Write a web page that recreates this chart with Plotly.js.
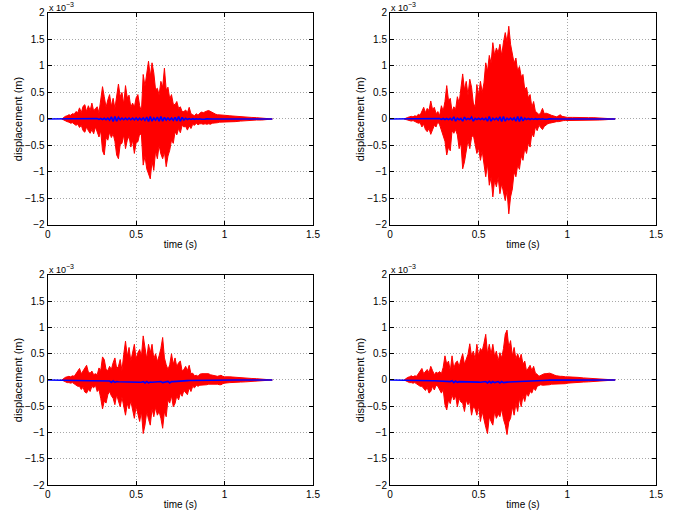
<!DOCTYPE html>
<html><head><meta charset="utf-8">
<script src="https://cdn.plot.ly/plotly-3.0.1.min.js"></script>
<style>html,body{margin:0;padding:0;background:#fff}#chart{width:689px;height:517px}</style>
</head><body><div id="chart"></div>
<script>
// time samples (s)
const time = [0.08,0.09,0.10,0.11,0.12,0.13,0.14,0.15,0.16,0.17,
 0.18,0.19,0.20,0.21,0.22,0.23,0.24,0.25,0.26,0.27,
 0.28,0.29,0.30,0.31,0.32,0.33,0.34,0.35,0.36,0.37,
 0.38,0.39,0.40,0.41,0.42,0.43,0.44,0.45,0.46,0.47,
 0.48,0.49,0.50,0.51,0.52,0.53,0.54,0.55,0.56,0.57,
 0.58,0.59,0.60,0.61,0.62,0.63,0.64,0.65,0.66,0.67,
 0.68,0.69,0.70,0.71,0.72,0.73,0.74,0.75,0.76,0.77,
 0.78,0.79,0.80,0.81,0.82,0.83,0.84,0.85,0.86,0.87,
 0.88,0.89,0.90,0.91,0.92,0.93,0.94,0.95,0.96,0.97,
 0.98,0.99,1.00,1.03,1.06,1.09,1.12,1.15,1.18,1.21,
 1.24,1.27];

// displacement values in units of 1e-3 m
// top-left panel: red envelope (upper / lower), blue response
const tlUpper = [0.00,0.03,0.05,0.06,0.08,0.07,0.10,0.09,0.14,0.12,
 0.21,0.12,0.24,0.27,0.14,0.25,0.16,0.30,0.15,0.20,
 0.23,0.12,0.40,0.61,0.42,0.22,0.36,0.46,0.24,0.39,
 0.20,0.40,0.66,0.42,0.50,0.28,0.63,0.40,0.45,0.22,
 0.30,0.22,0.40,0.46,0.25,0.14,0.84,0.62,0.90,1.09,
 0.80,1.06,0.87,0.55,0.58,0.45,0.71,0.60,0.96,0.55,
 0.60,0.38,0.46,0.28,0.27,0.33,0.20,0.23,0.14,0.14,
 0.17,0.12,0.22,0.10,0.08,0.06,0.10,0.07,0.11,0.13,
 0.12,0.14,0.15,0.16,0.14,0.12,0.10,0.09,0.08,0.08,
 0.08,0.07,0.07,0.06,0.05,0.04,0.04,0.03,0.025,0.02,
 0.01,0.00];
const tlLower = [0.00,-0.02,-0.04,-0.05,-0.06,-0.08,-0.07,-0.10,-0.12,-0.10,
 -0.16,-0.12,-0.22,-0.25,-0.15,-0.22,-0.27,-0.20,-0.28,-0.15,
 -0.26,-0.34,-0.22,-0.60,-0.68,-0.35,-0.40,-0.25,-0.35,-0.28,
 -0.42,-0.68,-0.75,-0.48,-0.46,-0.30,-0.56,-0.40,-0.32,-0.53,
 -0.40,-0.65,-0.45,-0.43,-0.28,-0.30,-0.87,-0.70,-0.94,-1.03,
 -1.13,-0.80,-0.97,-0.60,-0.75,-0.50,-0.66,-0.75,-0.62,-0.90,
 -0.70,-0.59,-0.40,-0.46,-0.24,-0.30,-0.18,-0.26,-0.12,-0.15,
 -0.14,-0.21,-0.13,-0.18,-0.10,-0.12,-0.08,-0.11,-0.09,-0.09,
 -0.10,-0.09,-0.10,-0.09,-0.10,-0.08,-0.08,-0.07,-0.07,-0.06,
 -0.06,-0.06,-0.06,-0.05,-0.05,-0.04,-0.03,-0.03,-0.02,-0.02,
 -0.01,0.00];
const tlBlue = [0,0,0,0,0.003,-0.003,0.003,-0.003,0.003,-0.003,
 0.005,-0.005,0.005,-0.005,0.005,-0.005,0.005,-0.005,0.005,-0.005,
 0.008,-0.008,0.01,-0.01,0.012,-0.012,0.015,-0.02,0.04,-0.045,
 0.045,-0.04,0.03,-0.015,0.015,-0.015,0.015,-0.015,0.015,-0.015,
 0.015,-0.015,0.02,-0.02,0.015,-0.015,0.02,-0.025,0.035,-0.045,
 0.045,-0.04,0.02,-0.02,0.035,-0.04,0.045,-0.04,0.03,-0.02,
 0.02,-0.02,0.02,-0.025,0.03,-0.035,0.045,-0.04,0.03,-0.02,
 0.015,-0.01,0.008,-0.008,0.006,-0.006,0.005,-0.005,0.004,-0.004,
 0.003,-0.003,0.002,-0.002,0,0,0,0,0,0,
 0,0,0,0,0,0,0,0,0,0,
 0,0];

// top-right panel
const trUpper = [0.00,0.02,0.03,0.04,0.05,0.04,0.06,0.05,0.09,0.07,
 0.15,0.22,0.12,0.20,0.16,0.34,0.18,0.22,0.10,0.14,
 0.06,0.25,0.15,0.33,0.63,0.35,0.39,0.14,0.23,0.18,
 0.42,0.30,0.58,0.85,0.55,0.71,0.45,0.75,0.60,0.30,
 0.22,0.65,0.45,0.71,0.50,0.68,1.06,0.90,1.20,1.05,
 1.44,1.20,1.34,1.25,1.41,1.20,1.45,1.63,1.45,1.75,
 1.41,1.25,1.05,1.15,0.90,0.99,0.80,0.84,0.55,0.60,
 0.40,0.46,0.22,0.33,0.14,0.12,0.08,0.12,0.20,0.10,
 0.11,0.10,0.08,0.07,0.06,0.05,0.04,0.06,0.08,0.05,
 0.04,0.03,0.03,0.03,0.025,0.03,0.025,0.025,0.02,0.02,
 0.01,0.00];
const trLower = [0.00,-0.01,-0.02,-0.03,-0.04,-0.03,-0.05,-0.06,-0.08,-0.07,
 -0.15,-0.10,-0.20,-0.24,-0.18,-0.29,-0.21,-0.12,-0.15,-0.05,
 -0.11,-0.22,-0.30,-0.42,-0.68,-0.53,-0.60,-0.22,-0.27,-0.20,
 -0.30,-0.56,-0.45,-0.94,-0.81,-0.59,-0.40,-0.56,-0.35,-0.30,
 -0.45,-0.65,-0.55,-0.78,-0.60,-0.90,-1.09,-0.85,-1.25,-1.10,
 -1.47,-1.15,-1.28,-1.10,-1.41,-1.22,-1.40,-1.54,-1.35,-1.79,
 -1.47,-1.32,-1.00,-1.09,-0.87,-0.95,-0.70,-0.78,-0.55,-0.65,
 -0.45,-0.53,-0.27,-0.34,-0.15,-0.22,-0.12,-0.17,-0.20,-0.14,
 -0.11,-0.09,-0.08,-0.07,-0.06,-0.06,-0.05,-0.05,-0.04,-0.03,
 -0.03,-0.03,-0.03,-0.025,-0.02,-0.025,-0.02,-0.02,-0.02,-0.015,
 -0.01,0.00];
const trBlue = [0,0,0,0,0.003,-0.003,0.003,-0.003,0.003,-0.003,
 0.005,-0.005,0.005,-0.005,0.005,-0.005,0.005,-0.005,0.005,-0.005,
 0.008,-0.008,0.01,-0.01,0.01,-0.012,0.012,-0.02,0.04,-0.04,
 0.015,-0.012,0.012,-0.04,0.035,-0.012,0.012,-0.01,0.035,-0.04,
 0.012,-0.012,0.012,-0.012,0.012,-0.015,0.015,-0.04,0.045,-0.04,
 0.015,-0.015,0.015,-0.02,0.04,-0.045,0.045,-0.04,0.015,-0.015,
 0.015,-0.015,0.02,-0.04,0.045,-0.045,0.04,-0.035,0.015,-0.012,
 0.01,-0.01,0.008,-0.008,0.006,-0.006,0.005,-0.005,0.004,-0.004,
 0.003,-0.003,0.002,-0.002,0,0,0,0,0,0,
 0,0,0,0,0,0,0,0,0,0,
 0,0];

// bottom-left panel
const blUpper = [0.00,0.03,0.05,0.06,0.07,0.06,0.08,0.07,0.12,0.15,
 0.22,0.12,0.18,0.23,0.28,0.15,0.13,0.17,0.10,0.12,
 0.10,0.23,0.18,0.44,0.39,0.20,0.18,0.26,0.20,0.33,
 0.42,0.22,0.26,0.39,0.18,0.49,0.74,0.45,0.62,0.36,
 0.50,0.68,0.40,0.52,0.58,0.45,0.84,0.65,0.40,0.68,
 0.52,0.68,0.40,0.50,0.35,0.46,0.60,0.81,0.42,0.29,
 0.20,0.29,0.50,0.30,0.42,0.25,0.33,0.36,0.17,0.20,
 0.26,0.18,0.28,0.12,0.13,0.08,0.09,0.07,0.11,0.12,
 0.12,0.13,0.13,0.12,0.10,0.09,0.08,0.07,0.07,0.08,
 0.09,0.07,0.06,0.06,0.05,0.04,0.035,0.03,0.025,0.02,
 0.01,0.00];
const blLower = [0.00,-0.02,-0.04,-0.05,-0.05,-0.06,-0.05,-0.07,-0.10,-0.12,
 -0.12,-0.18,-0.14,-0.23,-0.25,-0.18,-0.22,-0.12,-0.15,-0.10,
 -0.22,-0.18,-0.35,-0.55,-0.40,-0.44,-0.28,-0.22,-0.30,-0.35,
 -0.47,-0.28,-0.40,-0.51,-0.33,-0.54,-0.67,-0.45,-0.55,-0.40,
 -0.60,-0.73,-0.50,-0.65,-0.79,-0.60,-1.02,-0.86,-0.60,-0.75,
 -0.86,-0.55,-0.70,-0.52,-0.67,-0.60,-0.73,-0.92,-0.60,-0.70,
 -0.38,-0.44,-0.30,-0.51,-0.45,-0.30,-0.38,-0.25,-0.31,-0.20,
 -0.24,-0.28,-0.15,-0.22,-0.12,-0.15,-0.10,-0.12,-0.10,-0.10,
 -0.09,-0.09,-0.09,-0.08,-0.08,-0.07,-0.07,-0.07,-0.08,-0.09,
 -0.09,-0.07,-0.06,-0.05,-0.05,-0.04,-0.035,-0.03,-0.02,-0.02,
 -0.01,0.00];
const blBlue = [0,0,0,-0.003,-0.003,-0.005,-0.005,-0.005,-0.006,-0.007,
 -0.008,-0.009,-0.010,-0.011,-0.012,-0.013,-0.014,-0.015,-0.016,-0.017,
 -0.018,-0.02,-0.022,-0.024,-0.026,-0.028,-0.03,-0.02,-0.045,-0.015,
 -0.045,-0.03,-0.033,-0.035,-0.036,-0.037,-0.038,-0.039,-0.04,-0.04,
 -0.04,-0.041,-0.041,-0.042,-0.042,-0.042,-0.03,-0.055,-0.028,-0.055,
 -0.04,-0.042,-0.042,-0.041,-0.04,-0.04,-0.03,-0.05,-0.04,-0.04,
 -0.028,-0.055,-0.03,-0.032,-0.028,-0.025,-0.022,-0.02,-0.018,-0.016,
 -0.014,-0.012,-0.011,-0.01,-0.009,-0.008,-0.007,-0.006,-0.005,-0.005,
 -0.004,-0.004,-0.003,-0.003,-0.002,-0.002,-0.001,-0.001,0,0,
 0,0,0,0,0,0,0,0,0,0,
 0,0];

// bottom-right panel
const brUpper = [0.00,0.03,0.05,0.06,0.08,0.06,0.08,0.07,0.12,0.15,
 0.22,0.12,0.17,0.20,0.14,0.26,0.18,0.10,0.15,0.13,
 0.16,0.12,0.24,0.46,0.30,0.36,0.17,0.46,0.22,0.33,
 0.36,0.25,0.39,0.50,0.30,0.42,0.49,0.69,0.45,0.55,
 0.39,0.68,0.45,0.60,0.55,0.70,0.87,0.50,0.68,0.49,
 0.68,0.45,0.55,0.36,0.52,0.42,0.60,0.87,0.95,0.62,
 0.75,0.46,0.62,0.40,0.50,0.39,0.49,0.30,0.36,0.17,
 0.22,0.28,0.18,0.26,0.13,0.11,0.07,0.09,0.10,0.12,
 0.12,0.13,0.13,0.12,0.10,0.09,0.08,0.07,0.07,0.07,
 0.06,0.06,0.06,0.06,0.05,0.04,0.035,0.03,0.025,0.02,
 0.01,0.00];
const brLower = [0.00,-0.02,-0.04,-0.05,-0.05,-0.06,-0.05,-0.07,-0.10,-0.12,
 -0.12,-0.16,-0.20,-0.14,-0.25,-0.22,-0.12,-0.19,-0.10,-0.12,
 -0.19,-0.25,-0.18,-0.47,-0.57,-0.38,-0.45,-0.28,-0.38,-0.30,
 -0.51,-0.35,-0.42,-0.44,-0.60,-0.38,-0.47,-0.41,-0.67,-0.51,
 -0.55,-0.67,-0.50,-0.79,-0.60,-0.79,-0.90,-1.02,-0.70,-0.79,
 -0.86,-0.60,-0.73,-0.65,-0.70,-0.55,-0.75,-0.86,-1.04,-0.80,
 -0.73,-0.51,-0.67,-0.45,-0.60,-0.35,-0.51,-0.30,-0.41,-0.25,
 -0.31,-0.22,-0.25,-0.15,-0.20,-0.12,-0.11,-0.09,-0.10,-0.10,
 -0.09,-0.09,-0.09,-0.08,-0.08,-0.07,-0.07,-0.07,-0.07,-0.08,
 -0.08,-0.07,-0.06,-0.05,-0.05,-0.04,-0.035,-0.03,-0.02,-0.02,
 -0.01,0.00];
const brBlue = [0,0,0,-0.002,-0.003,-0.004,-0.005,-0.005,-0.006,-0.007,
 -0.008,-0.009,-0.01,-0.011,-0.012,-0.013,-0.014,-0.015,-0.016,-0.017,
 -0.018,-0.02,-0.022,-0.024,-0.026,-0.028,-0.03,-0.015,-0.05,-0.02,
 -0.045,-0.032,-0.034,-0.035,-0.036,-0.037,-0.038,-0.039,-0.04,-0.04,
 -0.04,-0.041,-0.041,-0.042,-0.042,-0.042,-0.03,-0.055,-0.025,-0.055,
 -0.03,-0.05,-0.042,-0.03,-0.055,-0.03,-0.05,-0.04,-0.04,-0.038,
 -0.036,-0.034,-0.032,-0.03,-0.028,-0.025,-0.022,-0.02,-0.018,-0.016,
 -0.014,-0.012,-0.011,-0.01,-0.009,-0.008,-0.007,-0.006,-0.005,-0.005,
 -0.004,-0.004,-0.003,-0.003,-0.002,-0.002,-0.001,-0.001,0,0,
 0,0,0,0,0,0,0,0,0,0,
 0,0];

const xTickVals = [0, 0.5, 1, 1.5];
const xTickText = ['0', '0.5', '1', '1.5'];
const yTickVals = [-2, -1.5, -1, -0.5, 0, 0.5, 1, 1.5, 2];
const yTickText = ['\u22122', '\u22121.5', '\u22121', '\u22120.5', '0', '0.5', '1', '1.5', '2'];
const xLabel = 'time (s)';
const yLabel = 'displacement (m)';
const scaleBase = 'x 10';
const scaleExp = '\u22123';

const FONT = 'Liberation Sans, Arial, Helvetica, sans-serif';
const panels = [
  {u: tlUpper, l: tlLower, b: tlBlue, xa: 'x',  ya: 'y',  xd: [0.0692, 0.4543], yd: [0.5648, 0.9749]},
  {u: trUpper, l: trLower, b: trBlue, xa: 'x2', ya: 'y2', xd: [0.5660, 0.9521], yd: [0.5648, 0.9749]},
  {u: blUpper, l: blLower, b: blBlue, xa: 'x3', ya: 'y3', xd: [0.0692, 0.4543], yd: [0.0619, 0.4681]},
  {u: brUpper, l: brLower, b: brBlue, xa: 'x4', ya: 'y4', xd: [0.5660, 0.9521], yd: [0.0619, 0.4681]}
];

const traces = [];
const layout = {
  width: 689, height: 517,
  margin: {l: 0, r: 0, t: 0, b: 0},
  paper_bgcolor: '#fff', plot_bgcolor: '#fff',
  showlegend: false,
  font: {family: FONT, size: 10, color: '#000'},
  annotations: []
};

panels.forEach((p, i) => {
  traces.push({x: time, y: p.u, xaxis: p.xa, yaxis: p.ya, type: 'scatter', mode: 'lines',
    line: {color: '#ff0000', width: 1}, hoverinfo: 'skip'});
  traces.push({x: time, y: p.l, xaxis: p.xa, yaxis: p.ya, type: 'scatter', mode: 'lines',
    fill: 'tonexty', fillcolor: '#ff0000', line: {color: '#ff0000', width: 1}, hoverinfo: 'skip'});
  traces.push({x: [0].concat(time), y: [0].concat(p.b), xaxis: p.xa, yaxis: p.ya, type: 'scatter', mode: 'lines',
    line: {color: '#0000ff', width: 1.6}, hoverinfo: 'skip'});

  const sfx = i === 0 ? '' : String(i + 1);
  const common = {
    ticks: 'inside', ticklen: 4, tickwidth: 1, tickcolor: '#000',
    showline: true, linecolor: '#000', linewidth: 1, mirror: 'ticks',
    showgrid: true, gridcolor: '#a8a8a8', griddash: '1px,2px', gridwidth: 1,
    zeroline: false, fixedrange: true, automargin: false,
    tickfont: {family: FONT, size: 10, color: '#000'}
  };
  layout['xaxis' + sfx] = Object.assign({}, common, {
    domain: p.xd, anchor: p.ya, range: [0, 1.5],
    tickmode: 'array', tickvals: xTickVals, ticktext: xTickText,
    title: {text: xLabel, font: {family: FONT, size: 10, color: '#000'}, standoff: 2}
  });
  layout['yaxis' + sfx] = Object.assign({}, common, {
    domain: p.yd, anchor: p.xa, range: [-2, 2],
    tickmode: 'array', tickvals: yTickVals, ticktext: yTickText,
    title: {text: yLabel, font: {family: FONT, size: 11, color: '#000'}, standoff: 0}
  });
  layout.annotations.push({
    xref: p.xa + ' domain', yref: p.ya + ' domain', x: 0, y: 1,
    xanchor: 'left', yanchor: 'bottom', showarrow: false,
    text: scaleBase, font: {family: FONT, size: 9, color: '#000'},
    borderpad: 0, yshift: -1
  });
  layout.annotations.push({
    xref: p.xa + ' domain', yref: p.ya + ' domain', x: 0, y: 1,
    xanchor: 'left', yanchor: 'bottom', showarrow: false,
    text: scaleExp, font: {family: FONT, size: 7, color: '#000'},
    borderpad: 0, xshift: 17, yshift: 4
  });
});

Plotly.newPlot('chart', traces, layout, {displayModeBar: false, staticPlot: true});
</script>
</body></html>
